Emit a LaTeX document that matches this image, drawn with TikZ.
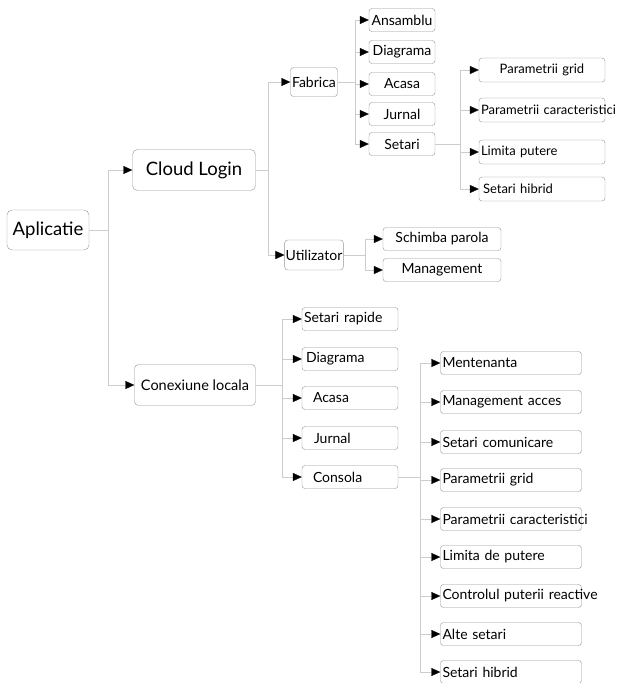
\documentclass[tikz,border=0pt]{standalone}
\usepackage{fontspec}
\setmainfont{Lato}
\usetikzlibrary{arrows.meta, positioning}

\begin{document}
\begin{tikzpicture}[
    x=1pt, y=-1pt,
    box/.style={draw=gray!85, rounded corners=3pt, inner sep=1pt, font=\fontsize{14}{16}\selectfont},
    big/.style={box, rounded corners=5pt, font=\fontsize{18.5}{21}\selectfont},
    mid/.style={box, rounded corners=4pt, font=\fontsize{14.5}{16}\selectfont},
    leaf/.style={box, minimum width=66, minimum height=23},
    side/.style={box, minimum width=118, minimum height=23},
    quick/.style={box, text width=92, minimum height=23, align=left, inner sep=2pt},
    param/.style={box, text width=122, minimum height=24, align=left, inner sep=2pt, font=\fontsize{13}{15}\selectfont},
    wide/.style={box, text width=137, minimum height=23, align=left, inner sep=2pt},
    link/.style={draw=gray!40, -{Triangle[length=9pt, width=8pt, color=black]}},
    bus/.style={draw=gray!40}
  ]
  \useasboundingbox (0,0) rectangle (618,683);

  % main levels
  \node[big, minimum width=82, minimum height=40] (app) at (48,230) {Aplicatie};
  \node[big, minimum width=123, minimum height=41] (cloud) at (194,170) {Cloud Login};
  \node[mid, minimum width=121, minimum height=41] (local) at (195,385) {Conexiune locala};
  \node[box, minimum width=47, minimum height=29] (fab) at (314,82) {Fabrica};
  \node[box, minimum width=48, minimum height=30] (user) at (314,255) {Utilizator};

  % Fabrica
  \node[leaf] (ans) at (402,20) {Ansamblu};
  \node[leaf] (fdiag) at (402,52) {Diagrama};
  \node[leaf] (facasa) at (402,84) {Acasa};
  \node[leaf] (fjur) at (402,114) {Jurnal};
  \node[leaf] (fset) at (402,144) {Setari};

  % Setari
  \node[param, align=center] (pgrid) at (542,70) {Parametrii grid};
  \node[param] (pcar) at (542,110) {\mbox{Parametrii caracteristici}};
  \node[param] (plim) at (542,152) {Limita putere};
  \node[param] (phib) at (542,189) {\hspace{2pt}Setari hibrid};

  % Utilizator
  \node[side] (parola) at (442,239) {Schimba parola};
  \node[side] (mgmt) at (442,270) {Management};

  % Conexiune locala
  \node[quick] (rapid) at (350,319) {Setari rapide};
  \node[quick] (ldiag) at (350,359) {\hspace{2pt}Diagrama};
  \node[quick] (lacasa) at (350,398) {\hspace{9pt}Acasa};
  \node[quick] (ljur) at (350,438) {\hspace{10pt}Jurnal};
  \node[quick] (cons) at (350,477) {\hspace{9pt}Consola};

  % Consola
  \node[wide] (ment) at (511,363) {Mentenanta};
  \node[wide] (macc) at (511,402) {Management acces};
  \node[wide] (scom) at (511,442) {Setari comunicare};
  \node[wide] (cgrid) at (511,480) {Parametrii grid};
  \node[wide] (ccar) at (511,519) {\mbox{Parametrii caracteristici}};
  \node[wide] (clim) at (511,557) {Limita de putere};
  \node[wide] (creac) at (511,596) {\mbox{Controlul puterii reactive}};
  \node[wide] (alte) at (511,634) {Alte setari};
  \node[wide] (chib) at (511,672) {Setari hibrid};

  % connectors
  \draw[bus] (app.east) -- ++(19,0) coordinate (b0);
  \foreach \n in {cloud, local}
    \draw[link] (b0) |- (\n.west);

  \draw[bus] (cloud.east) -- ++(12,0) coordinate (b1);
  \foreach \n in {fab, user}
    \draw[link] (b1) |- (\n.west);

  \draw[bus] (fab.east) -- ++(17,0) coordinate (b2);
  \foreach \n in {ans, fdiag, facasa, fjur, fset}
    \draw[link] (b2) |- (\n.west);

  \draw[bus] (fset.east) -- ++(25,0) coordinate (b3);
  \foreach \n in {pgrid, pcar, plim, phib}
    \draw[link] (b3) |- (\n.west);

  \draw[bus] (user.east) -- ++(22,0) coordinate (b4);
  \foreach \n in {parola, mgmt}
    \draw[link] (b4) |- (\n.west);

  \draw[bus] (local.east) -- ++(26,0) coordinate (b5);
  \foreach \n in {rapid, ldiag, lacasa, ljur, cons}
    \draw[link] (b5) |- (\n.west);

  \draw[bus] (cons.east) -- ++(22,0) coordinate (b6);
  \foreach \n in {ment, macc, scom, cgrid, ccar, clim, creac, alte, chib}
    \draw[link] (b6) |- (\n.west);
\end{tikzpicture}
\end{document}
